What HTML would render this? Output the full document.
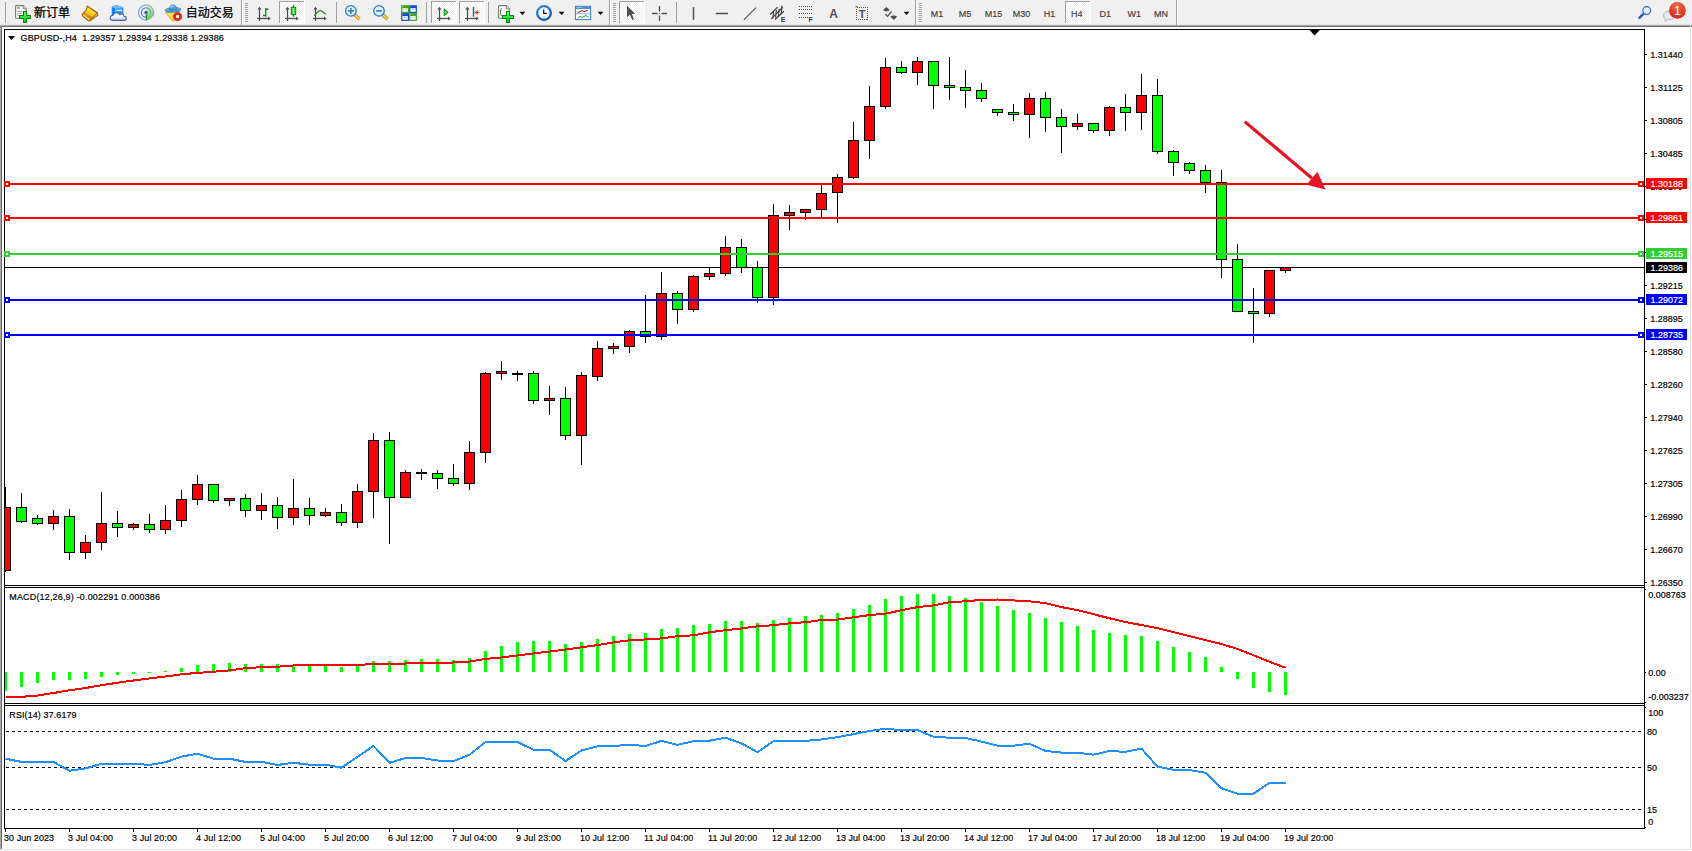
<!DOCTYPE html>
<html><head><meta charset="utf-8"><title>GBPUSD-,H4</title>
<style>
html,body{margin:0;padding:0;background:#fff;}
body{width:1692px;height:851px;overflow:hidden;position:relative;font-family:"Liberation Sans","Noto Sans CJK SC",sans-serif;}
#tb{position:absolute;left:0;top:0;width:1692px;height:25px;background:#f0f0f0;}
.ln{position:absolute;left:0;width:1692px;height:1px;}
svg{position:absolute;left:0;top:0;}
svg text{white-space:pre;}
</style></head><body>
<div id="tb"></div>
<div class="ln" style="top:24px;background:#e6e6e6"></div>
<div class="ln" style="top:25px;background:#a8a8a8"></div>
<div class="ln" style="top:26px;background:#6e6e6e"></div>
<div style="position:absolute;left:0;top:25px;width:1px;height:825px;background:#a8a8a8"></div>
<div style="position:absolute;left:1px;top:27px;width:1px;height:822px;background:#696969"></div>
<div style="position:absolute;left:1690px;top:26px;width:1px;height:824px;background:#e3e3e3"></div>
<div class="ln" style="top:849px;background:#e3e3e3"></div>
<svg width="1692" height="851" viewBox="0 0 1692 851">
<g shape-rendering="crispEdges">
<rect x="4" y="29" width="1641" height="1" fill="#000"/>
<rect x="4" y="29" width="1" height="800" fill="#000"/>
<rect x="1644" y="29" width="1" height="800" fill="#000"/>
<rect x="4" y="585" width="1641" height="1" fill="#000"/>
<rect x="4" y="587" width="1641" height="1" fill="#000"/>
<rect x="4" y="703" width="1641" height="1" fill="#000"/>
<rect x="4" y="705" width="1641" height="1" fill="#000"/>
<rect x="4" y="828" width="1641" height="1" fill="#000"/>
<rect x="5" y="586" width="1639" height="1" fill="#fff"/>
<rect x="5" y="704" width="1639" height="1" fill="#fff"/>
</g>
<polygon points="1309.5,30 1319.8,30 1314.6,35.4" fill="#000"/>
<g shape-rendering="crispEdges">
<rect x="5" y="267" width="1639" height="1" fill="#000"/>
<rect x="5" y="487" width="1" height="85" fill="#000"/>
<rect x="5" y="507" width="6" height="64" fill="#000"/>
<rect x="5" y="508" width="5" height="62" fill="#ff0000"/>
<rect x="21" y="493" width="1" height="30" fill="#000"/>
<rect x="16" y="507" width="11" height="15" fill="#000"/>
<rect x="17" y="508" width="9" height="13" fill="#00ff00"/>
<rect x="37" y="515" width="1" height="10" fill="#000"/>
<rect x="32" y="518" width="11" height="6" fill="#000"/>
<rect x="33" y="519" width="9" height="4" fill="#00ff00"/>
<rect x="53" y="510" width="1" height="20" fill="#000"/>
<rect x="48" y="516" width="11" height="8" fill="#000"/>
<rect x="49" y="517" width="9" height="6" fill="#ff0000"/>
<rect x="69" y="509" width="1" height="51" fill="#000"/>
<rect x="64" y="516" width="11" height="37" fill="#000"/>
<rect x="65" y="517" width="9" height="35" fill="#00ff00"/>
<rect x="85" y="535" width="1" height="24" fill="#000"/>
<rect x="80" y="542" width="11" height="11" fill="#000"/>
<rect x="81" y="543" width="9" height="9" fill="#ff0000"/>
<rect x="101" y="492" width="1" height="58" fill="#000"/>
<rect x="96" y="523" width="11" height="20" fill="#000"/>
<rect x="97" y="524" width="9" height="18" fill="#ff0000"/>
<rect x="117" y="511" width="1" height="26" fill="#000"/>
<rect x="112" y="523" width="11" height="5" fill="#000"/>
<rect x="113" y="524" width="9" height="3" fill="#00ff00"/>
<rect x="133" y="523" width="1" height="7" fill="#000"/>
<rect x="128" y="524" width="11" height="4" fill="#000"/>
<rect x="129" y="525" width="9" height="2" fill="#ff0000"/>
<rect x="149" y="514" width="1" height="19" fill="#000"/>
<rect x="144" y="524" width="11" height="6" fill="#000"/>
<rect x="145" y="525" width="9" height="4" fill="#00ff00"/>
<rect x="165" y="505" width="1" height="29" fill="#000"/>
<rect x="160" y="520" width="11" height="10" fill="#000"/>
<rect x="161" y="521" width="9" height="8" fill="#ff0000"/>
<rect x="181" y="490" width="1" height="37" fill="#000"/>
<rect x="176" y="499" width="11" height="22" fill="#000"/>
<rect x="177" y="500" width="9" height="20" fill="#ff0000"/>
<rect x="197" y="475" width="1" height="30" fill="#000"/>
<rect x="192" y="484" width="11" height="16" fill="#000"/>
<rect x="193" y="485" width="9" height="14" fill="#ff0000"/>
<rect x="213" y="484" width="1" height="19" fill="#000"/>
<rect x="208" y="484" width="11" height="17" fill="#000"/>
<rect x="209" y="485" width="9" height="15" fill="#00ff00"/>
<rect x="229" y="498" width="1" height="8" fill="#000"/>
<rect x="224" y="498" width="11" height="3" fill="#000"/>
<rect x="225" y="499" width="9" height="1" fill="#ff0000"/>
<rect x="245" y="494" width="1" height="23" fill="#000"/>
<rect x="240" y="498" width="11" height="13" fill="#000"/>
<rect x="241" y="499" width="9" height="11" fill="#00ff00"/>
<rect x="261" y="493" width="1" height="27" fill="#000"/>
<rect x="256" y="505" width="11" height="6" fill="#000"/>
<rect x="257" y="506" width="9" height="4" fill="#ff0000"/>
<rect x="277" y="497" width="1" height="32" fill="#000"/>
<rect x="272" y="505" width="11" height="13" fill="#000"/>
<rect x="273" y="506" width="9" height="11" fill="#00ff00"/>
<rect x="293" y="479" width="1" height="46" fill="#000"/>
<rect x="288" y="508" width="11" height="10" fill="#000"/>
<rect x="289" y="509" width="9" height="8" fill="#ff0000"/>
<rect x="309" y="498" width="1" height="27" fill="#000"/>
<rect x="304" y="508" width="11" height="8" fill="#000"/>
<rect x="305" y="509" width="9" height="6" fill="#00ff00"/>
<rect x="325" y="508" width="1" height="9" fill="#000"/>
<rect x="320" y="512" width="11" height="4" fill="#000"/>
<rect x="321" y="513" width="9" height="2" fill="#ff0000"/>
<rect x="341" y="504" width="1" height="22" fill="#000"/>
<rect x="336" y="512" width="11" height="11" fill="#000"/>
<rect x="337" y="513" width="9" height="9" fill="#00ff00"/>
<rect x="357" y="484" width="1" height="44" fill="#000"/>
<rect x="352" y="491" width="11" height="32" fill="#000"/>
<rect x="353" y="492" width="9" height="30" fill="#ff0000"/>
<rect x="373" y="433" width="1" height="85" fill="#000"/>
<rect x="368" y="440" width="11" height="52" fill="#000"/>
<rect x="369" y="441" width="9" height="50" fill="#ff0000"/>
<rect x="389" y="432" width="1" height="112" fill="#000"/>
<rect x="384" y="440" width="11" height="58" fill="#000"/>
<rect x="385" y="441" width="9" height="56" fill="#00ff00"/>
<rect x="405" y="470" width="1" height="28" fill="#000"/>
<rect x="400" y="472" width="11" height="26" fill="#000"/>
<rect x="401" y="473" width="9" height="24" fill="#ff0000"/>
<rect x="421" y="469" width="1" height="11" fill="#000"/>
<rect x="416" y="472" width="11" height="2" fill="#000"/>
<rect x="437" y="470" width="1" height="19" fill="#000"/>
<rect x="432" y="473" width="11" height="6" fill="#000"/>
<rect x="433" y="474" width="9" height="4" fill="#00ff00"/>
<rect x="453" y="464" width="1" height="22" fill="#000"/>
<rect x="448" y="478" width="11" height="6" fill="#000"/>
<rect x="449" y="479" width="9" height="4" fill="#00ff00"/>
<rect x="469" y="441" width="1" height="49" fill="#000"/>
<rect x="464" y="452" width="11" height="32" fill="#000"/>
<rect x="465" y="453" width="9" height="30" fill="#ff0000"/>
<rect x="485" y="372" width="1" height="91" fill="#000"/>
<rect x="480" y="373" width="11" height="80" fill="#000"/>
<rect x="481" y="374" width="9" height="78" fill="#ff0000"/>
<rect x="501" y="361" width="1" height="19" fill="#000"/>
<rect x="496" y="371" width="11" height="3" fill="#000"/>
<rect x="497" y="372" width="9" height="1" fill="#ff0000"/>
<rect x="517" y="371" width="1" height="10" fill="#000"/>
<rect x="512" y="373" width="11" height="2" fill="#000"/>
<rect x="533" y="371" width="1" height="33" fill="#000"/>
<rect x="528" y="373" width="11" height="28" fill="#000"/>
<rect x="529" y="374" width="9" height="26" fill="#00ff00"/>
<rect x="549" y="386" width="1" height="29" fill="#000"/>
<rect x="544" y="398" width="11" height="3" fill="#000"/>
<rect x="545" y="399" width="9" height="1" fill="#ff0000"/>
<rect x="565" y="387" width="1" height="53" fill="#000"/>
<rect x="560" y="398" width="11" height="38" fill="#000"/>
<rect x="561" y="399" width="9" height="36" fill="#00ff00"/>
<rect x="581" y="372" width="1" height="93" fill="#000"/>
<rect x="576" y="375" width="11" height="61" fill="#000"/>
<rect x="577" y="376" width="9" height="59" fill="#ff0000"/>
<rect x="597" y="341" width="1" height="40" fill="#000"/>
<rect x="592" y="348" width="11" height="29" fill="#000"/>
<rect x="593" y="349" width="9" height="27" fill="#ff0000"/>
<rect x="613" y="343" width="1" height="11" fill="#000"/>
<rect x="608" y="346" width="11" height="3" fill="#000"/>
<rect x="609" y="347" width="9" height="1" fill="#ff0000"/>
<rect x="629" y="330" width="1" height="23" fill="#000"/>
<rect x="624" y="331" width="11" height="16" fill="#000"/>
<rect x="625" y="332" width="9" height="14" fill="#ff0000"/>
<rect x="645" y="295" width="1" height="48" fill="#000"/>
<rect x="640" y="331" width="11" height="6" fill="#000"/>
<rect x="641" y="332" width="9" height="4" fill="#00ff00"/>
<rect x="661" y="272" width="1" height="68" fill="#000"/>
<rect x="656" y="293" width="11" height="44" fill="#000"/>
<rect x="657" y="294" width="9" height="42" fill="#ff0000"/>
<rect x="677" y="291" width="1" height="33" fill="#000"/>
<rect x="672" y="293" width="11" height="17" fill="#000"/>
<rect x="673" y="294" width="9" height="15" fill="#00ff00"/>
<rect x="693" y="275" width="1" height="37" fill="#000"/>
<rect x="688" y="276" width="11" height="34" fill="#000"/>
<rect x="689" y="277" width="9" height="32" fill="#ff0000"/>
<rect x="709" y="267" width="1" height="13" fill="#000"/>
<rect x="704" y="273" width="11" height="4" fill="#000"/>
<rect x="705" y="274" width="9" height="2" fill="#ff0000"/>
<rect x="725" y="236" width="1" height="40" fill="#000"/>
<rect x="720" y="247" width="11" height="27" fill="#000"/>
<rect x="721" y="248" width="9" height="25" fill="#ff0000"/>
<rect x="741" y="239" width="1" height="34" fill="#000"/>
<rect x="736" y="247" width="11" height="21" fill="#000"/>
<rect x="737" y="248" width="9" height="19" fill="#00ff00"/>
<rect x="757" y="261" width="1" height="42" fill="#000"/>
<rect x="752" y="267" width="11" height="31" fill="#000"/>
<rect x="753" y="268" width="9" height="29" fill="#00ff00"/>
<rect x="773" y="204" width="1" height="101" fill="#000"/>
<rect x="768" y="215" width="11" height="83" fill="#000"/>
<rect x="769" y="216" width="9" height="81" fill="#ff0000"/>
<rect x="789" y="205" width="1" height="25" fill="#000"/>
<rect x="784" y="212" width="11" height="4" fill="#000"/>
<rect x="785" y="213" width="9" height="2" fill="#ff0000"/>
<rect x="805" y="209" width="1" height="11" fill="#000"/>
<rect x="800" y="209" width="11" height="4" fill="#000"/>
<rect x="801" y="210" width="9" height="2" fill="#ff0000"/>
<rect x="821" y="185" width="1" height="32" fill="#000"/>
<rect x="816" y="193" width="11" height="17" fill="#000"/>
<rect x="817" y="194" width="9" height="15" fill="#ff0000"/>
<rect x="837" y="174" width="1" height="49" fill="#000"/>
<rect x="832" y="177" width="11" height="16" fill="#000"/>
<rect x="833" y="178" width="9" height="14" fill="#ff0000"/>
<rect x="853" y="122" width="1" height="57" fill="#000"/>
<rect x="848" y="140" width="11" height="38" fill="#000"/>
<rect x="849" y="141" width="9" height="36" fill="#ff0000"/>
<rect x="869" y="86" width="1" height="73" fill="#000"/>
<rect x="864" y="106" width="11" height="35" fill="#000"/>
<rect x="865" y="107" width="9" height="33" fill="#ff0000"/>
<rect x="885" y="58" width="1" height="51" fill="#000"/>
<rect x="880" y="67" width="11" height="40" fill="#000"/>
<rect x="881" y="68" width="9" height="38" fill="#ff0000"/>
<rect x="901" y="61" width="1" height="13" fill="#000"/>
<rect x="896" y="67" width="11" height="6" fill="#000"/>
<rect x="897" y="68" width="9" height="4" fill="#00ff00"/>
<rect x="917" y="57" width="1" height="28" fill="#000"/>
<rect x="912" y="61" width="11" height="12" fill="#000"/>
<rect x="913" y="62" width="9" height="10" fill="#ff0000"/>
<rect x="933" y="61" width="1" height="48" fill="#000"/>
<rect x="928" y="61" width="11" height="25" fill="#000"/>
<rect x="929" y="62" width="9" height="23" fill="#00ff00"/>
<rect x="949" y="57" width="1" height="43" fill="#000"/>
<rect x="944" y="85" width="11" height="3" fill="#000"/>
<rect x="945" y="86" width="9" height="1" fill="#00ff00"/>
<rect x="965" y="70" width="1" height="38" fill="#000"/>
<rect x="960" y="87" width="11" height="4" fill="#000"/>
<rect x="961" y="88" width="9" height="2" fill="#00ff00"/>
<rect x="981" y="83" width="1" height="19" fill="#000"/>
<rect x="976" y="90" width="11" height="9" fill="#000"/>
<rect x="977" y="91" width="9" height="7" fill="#00ff00"/>
<rect x="997" y="109" width="1" height="7" fill="#000"/>
<rect x="992" y="109" width="11" height="4" fill="#000"/>
<rect x="993" y="110" width="9" height="2" fill="#00ff00"/>
<rect x="1013" y="104" width="1" height="17" fill="#000"/>
<rect x="1008" y="112" width="11" height="3" fill="#000"/>
<rect x="1009" y="113" width="9" height="1" fill="#00ff00"/>
<rect x="1029" y="93" width="1" height="45" fill="#000"/>
<rect x="1024" y="98" width="11" height="17" fill="#000"/>
<rect x="1025" y="99" width="9" height="15" fill="#ff0000"/>
<rect x="1045" y="92" width="1" height="40" fill="#000"/>
<rect x="1040" y="98" width="11" height="20" fill="#000"/>
<rect x="1041" y="99" width="9" height="18" fill="#00ff00"/>
<rect x="1061" y="109" width="1" height="44" fill="#000"/>
<rect x="1056" y="117" width="11" height="10" fill="#000"/>
<rect x="1057" y="118" width="9" height="8" fill="#00ff00"/>
<rect x="1077" y="114" width="1" height="16" fill="#000"/>
<rect x="1072" y="123" width="11" height="4" fill="#000"/>
<rect x="1073" y="124" width="9" height="2" fill="#ff0000"/>
<rect x="1093" y="123" width="1" height="10" fill="#000"/>
<rect x="1088" y="123" width="11" height="8" fill="#000"/>
<rect x="1089" y="124" width="9" height="6" fill="#00ff00"/>
<rect x="1109" y="106" width="1" height="30" fill="#000"/>
<rect x="1104" y="107" width="11" height="24" fill="#000"/>
<rect x="1105" y="108" width="9" height="22" fill="#ff0000"/>
<rect x="1125" y="94" width="1" height="37" fill="#000"/>
<rect x="1120" y="107" width="11" height="6" fill="#000"/>
<rect x="1121" y="108" width="9" height="4" fill="#00ff00"/>
<rect x="1141" y="74" width="1" height="56" fill="#000"/>
<rect x="1136" y="95" width="11" height="18" fill="#000"/>
<rect x="1137" y="96" width="9" height="16" fill="#ff0000"/>
<rect x="1157" y="79" width="1" height="75" fill="#000"/>
<rect x="1152" y="95" width="11" height="57" fill="#000"/>
<rect x="1153" y="96" width="9" height="55" fill="#00ff00"/>
<rect x="1173" y="150" width="1" height="26" fill="#000"/>
<rect x="1168" y="151" width="11" height="12" fill="#000"/>
<rect x="1169" y="152" width="9" height="10" fill="#00ff00"/>
<rect x="1189" y="162" width="1" height="12" fill="#000"/>
<rect x="1184" y="163" width="11" height="8" fill="#000"/>
<rect x="1185" y="164" width="9" height="6" fill="#00ff00"/>
<rect x="1205" y="165" width="1" height="28" fill="#000"/>
<rect x="1200" y="170" width="11" height="13" fill="#000"/>
<rect x="1201" y="171" width="9" height="11" fill="#00ff00"/>
<rect x="1221" y="170" width="1" height="108" fill="#000"/>
<rect x="1216" y="182" width="11" height="78" fill="#000"/>
<rect x="1217" y="183" width="9" height="76" fill="#00ff00"/>
<rect x="1237" y="244" width="1" height="68" fill="#000"/>
<rect x="1232" y="259" width="11" height="53" fill="#000"/>
<rect x="1233" y="260" width="9" height="51" fill="#00ff00"/>
<rect x="1253" y="288" width="1" height="55" fill="#000"/>
<rect x="1248" y="311" width="11" height="3" fill="#000"/>
<rect x="1249" y="312" width="9" height="1" fill="#00ff00"/>
<rect x="1269" y="270" width="1" height="47" fill="#000"/>
<rect x="1264" y="270" width="11" height="44" fill="#000"/>
<rect x="1265" y="271" width="9" height="42" fill="#ff0000"/>
<rect x="1285" y="267" width="1" height="6" fill="#000"/>
<rect x="1280" y="267" width="11" height="4" fill="#000"/>
<rect x="1281" y="268" width="9" height="2" fill="#ff0000"/>
<rect x="5" y="183" width="1639" height="2" fill="#ff0000"/>
<rect x="4" y="181" width="6" height="6" fill="#ff0000"/><rect x="6" y="183" width="2" height="2" fill="#fff"/>
<rect x="1638" y="181" width="6" height="6" fill="#ff0000"/><rect x="1640" y="183" width="2" height="2" fill="#fff"/>
<rect x="5" y="217" width="1639" height="2" fill="#ff0000"/>
<rect x="4" y="215" width="6" height="6" fill="#ff0000"/><rect x="6" y="217" width="2" height="2" fill="#fff"/>
<rect x="1638" y="215" width="6" height="6" fill="#ff0000"/><rect x="1640" y="217" width="2" height="2" fill="#fff"/>
<rect x="5" y="253" width="1639" height="2" fill="#32cd32"/>
<rect x="4" y="251" width="6" height="6" fill="#32cd32"/><rect x="6" y="253" width="2" height="2" fill="#fff"/>
<rect x="1638" y="251" width="6" height="6" fill="#32cd32"/><rect x="1640" y="253" width="2" height="2" fill="#fff"/>
<rect x="5" y="299" width="1639" height="2" fill="#0000ff"/>
<rect x="4" y="297" width="6" height="6" fill="#0000ff"/><rect x="6" y="299" width="2" height="2" fill="#fff"/>
<rect x="1638" y="297" width="6" height="6" fill="#0000ff"/><rect x="1640" y="299" width="2" height="2" fill="#fff"/>
<rect x="5" y="334" width="1639" height="2" fill="#0000ff"/>
<rect x="4" y="332" width="6" height="6" fill="#0000ff"/><rect x="6" y="334" width="2" height="2" fill="#fff"/>
<rect x="1638" y="332" width="6" height="6" fill="#0000ff"/><rect x="1640" y="334" width="2" height="2" fill="#fff"/>
<rect x="5" y="672" width="2" height="19" fill="#00ff00"/>
<rect x="20" y="672" width="3" height="15" fill="#00ff00"/>
<rect x="36" y="672" width="3" height="11" fill="#00ff00"/>
<rect x="52" y="672" width="3" height="8" fill="#00ff00"/>
<rect x="68" y="672" width="3" height="8" fill="#00ff00"/>
<rect x="84" y="672" width="3" height="7" fill="#00ff00"/>
<rect x="100" y="672" width="3" height="5" fill="#00ff00"/>
<rect x="116" y="672" width="3" height="3" fill="#00ff00"/>
<rect x="132" y="672" width="3" height="2" fill="#00ff00"/>
<rect x="148" y="672" width="3" height="1" fill="#00ff00"/>
<rect x="164" y="671" width="3" height="1" fill="#00ff00"/>
<rect x="180" y="668" width="3" height="4" fill="#00ff00"/>
<rect x="196" y="665" width="3" height="7" fill="#00ff00"/>
<rect x="212" y="664" width="3" height="8" fill="#00ff00"/>
<rect x="228" y="663" width="3" height="9" fill="#00ff00"/>
<rect x="244" y="664" width="3" height="8" fill="#00ff00"/>
<rect x="260" y="664" width="3" height="8" fill="#00ff00"/>
<rect x="276" y="664" width="3" height="8" fill="#00ff00"/>
<rect x="292" y="665" width="3" height="7" fill="#00ff00"/>
<rect x="308" y="665" width="3" height="7" fill="#00ff00"/>
<rect x="324" y="665" width="3" height="7" fill="#00ff00"/>
<rect x="340" y="667" width="3" height="5" fill="#00ff00"/>
<rect x="356" y="665" width="3" height="7" fill="#00ff00"/>
<rect x="372" y="661" width="3" height="11" fill="#00ff00"/>
<rect x="388" y="661" width="3" height="11" fill="#00ff00"/>
<rect x="404" y="660" width="3" height="12" fill="#00ff00"/>
<rect x="420" y="659" width="3" height="13" fill="#00ff00"/>
<rect x="436" y="659" width="3" height="13" fill="#00ff00"/>
<rect x="452" y="660" width="3" height="12" fill="#00ff00"/>
<rect x="468" y="658" width="3" height="14" fill="#00ff00"/>
<rect x="484" y="651" width="3" height="21" fill="#00ff00"/>
<rect x="500" y="646" width="3" height="26" fill="#00ff00"/>
<rect x="516" y="642" width="3" height="30" fill="#00ff00"/>
<rect x="532" y="641" width="3" height="31" fill="#00ff00"/>
<rect x="548" y="641" width="3" height="31" fill="#00ff00"/>
<rect x="564" y="644" width="3" height="28" fill="#00ff00"/>
<rect x="580" y="642" width="3" height="30" fill="#00ff00"/>
<rect x="596" y="639" width="3" height="33" fill="#00ff00"/>
<rect x="612" y="636" width="3" height="36" fill="#00ff00"/>
<rect x="628" y="634" width="3" height="38" fill="#00ff00"/>
<rect x="644" y="633" width="3" height="39" fill="#00ff00"/>
<rect x="660" y="629" width="3" height="43" fill="#00ff00"/>
<rect x="676" y="628" width="3" height="44" fill="#00ff00"/>
<rect x="692" y="625" width="3" height="47" fill="#00ff00"/>
<rect x="708" y="624" width="3" height="48" fill="#00ff00"/>
<rect x="724" y="621" width="3" height="51" fill="#00ff00"/>
<rect x="740" y="621" width="3" height="51" fill="#00ff00"/>
<rect x="756" y="623" width="3" height="49" fill="#00ff00"/>
<rect x="772" y="620" width="3" height="52" fill="#00ff00"/>
<rect x="788" y="618" width="3" height="54" fill="#00ff00"/>
<rect x="804" y="616" width="3" height="56" fill="#00ff00"/>
<rect x="820" y="615" width="3" height="57" fill="#00ff00"/>
<rect x="836" y="613" width="3" height="59" fill="#00ff00"/>
<rect x="852" y="609" width="3" height="63" fill="#00ff00"/>
<rect x="868" y="605" width="3" height="67" fill="#00ff00"/>
<rect x="884" y="599" width="3" height="73" fill="#00ff00"/>
<rect x="900" y="596" width="3" height="76" fill="#00ff00"/>
<rect x="916" y="594" width="3" height="78" fill="#00ff00"/>
<rect x="932" y="594" width="3" height="78" fill="#00ff00"/>
<rect x="948" y="596" width="3" height="76" fill="#00ff00"/>
<rect x="964" y="598" width="3" height="74" fill="#00ff00"/>
<rect x="980" y="602" width="3" height="70" fill="#00ff00"/>
<rect x="996" y="606" width="3" height="66" fill="#00ff00"/>
<rect x="1012" y="610" width="3" height="62" fill="#00ff00"/>
<rect x="1028" y="613" width="3" height="59" fill="#00ff00"/>
<rect x="1044" y="618" width="3" height="54" fill="#00ff00"/>
<rect x="1060" y="622" width="3" height="50" fill="#00ff00"/>
<rect x="1076" y="626" width="3" height="46" fill="#00ff00"/>
<rect x="1092" y="630" width="3" height="42" fill="#00ff00"/>
<rect x="1108" y="633" width="3" height="39" fill="#00ff00"/>
<rect x="1124" y="635" width="3" height="37" fill="#00ff00"/>
<rect x="1140" y="636" width="3" height="36" fill="#00ff00"/>
<rect x="1156" y="641" width="3" height="31" fill="#00ff00"/>
<rect x="1172" y="647" width="3" height="25" fill="#00ff00"/>
<rect x="1188" y="652" width="3" height="20" fill="#00ff00"/>
<rect x="1204" y="657" width="3" height="15" fill="#00ff00"/>
<rect x="1220" y="667" width="3" height="5" fill="#00ff00"/>
<rect x="1236" y="672" width="3" height="7" fill="#00ff00"/>
<rect x="1252" y="672" width="3" height="16" fill="#00ff00"/>
<rect x="1268" y="672" width="3" height="20" fill="#00ff00"/>
<rect x="1284" y="672" width="3" height="23" fill="#00ff00"/>
<line x1="6" y1="731.5" x2="1643" y2="731.5" stroke="#000" stroke-width="1" stroke-dasharray="3 3"/>
<line x1="6" y1="767.5" x2="1643" y2="767.5" stroke="#000" stroke-width="1" stroke-dasharray="3 3"/>
<line x1="6" y1="809.5" x2="1643" y2="809.5" stroke="#000" stroke-width="1" stroke-dasharray="3 3"/>
<rect x="1645" y="54" width="2" height="1" fill="#000"/>
<rect x="1645" y="87" width="2" height="1" fill="#000"/>
<rect x="1645" y="120" width="2" height="1" fill="#000"/>
<rect x="1645" y="153" width="2" height="1" fill="#000"/>
<rect x="1645" y="186" width="2" height="1" fill="#000"/>
<rect x="1645" y="219" width="2" height="1" fill="#000"/>
<rect x="1645" y="252" width="2" height="1" fill="#000"/>
<rect x="1645" y="285" width="2" height="1" fill="#000"/>
<rect x="1645" y="318" width="2" height="1" fill="#000"/>
<rect x="1645" y="351" width="2" height="1" fill="#000"/>
<rect x="1645" y="384" width="2" height="1" fill="#000"/>
<rect x="1645" y="417" width="2" height="1" fill="#000"/>
<rect x="1645" y="450" width="2" height="1" fill="#000"/>
<rect x="1645" y="483" width="2" height="1" fill="#000"/>
<rect x="1645" y="516" width="2" height="1" fill="#000"/>
<rect x="1645" y="549" width="2" height="1" fill="#000"/>
<rect x="1645" y="582" width="2" height="1" fill="#000"/>
<rect x="1645" y="589" width="1" height="1" fill="#000"/>
<rect x="1645" y="672" width="1" height="1" fill="#000"/>
<rect x="1645" y="702" width="1" height="1" fill="#000"/>
<rect x="1645" y="707" width="1" height="1" fill="#000"/>
<rect x="1645" y="827" width="1" height="1" fill="#000"/>
<rect x="5" y="829" width="1" height="3" fill="#000"/>
<rect x="69" y="829" width="1" height="3" fill="#000"/>
<rect x="133" y="829" width="1" height="3" fill="#000"/>
<rect x="197" y="829" width="1" height="3" fill="#000"/>
<rect x="261" y="829" width="1" height="3" fill="#000"/>
<rect x="325" y="829" width="1" height="3" fill="#000"/>
<rect x="389" y="829" width="1" height="3" fill="#000"/>
<rect x="453" y="829" width="1" height="3" fill="#000"/>
<rect x="517" y="829" width="1" height="3" fill="#000"/>
<rect x="581" y="829" width="1" height="3" fill="#000"/>
<rect x="645" y="829" width="1" height="3" fill="#000"/>
<rect x="709" y="829" width="1" height="3" fill="#000"/>
<rect x="773" y="829" width="1" height="3" fill="#000"/>
<rect x="837" y="829" width="1" height="3" fill="#000"/>
<rect x="901" y="829" width="1" height="3" fill="#000"/>
<rect x="965" y="829" width="1" height="3" fill="#000"/>
<rect x="1029" y="829" width="1" height="3" fill="#000"/>
<rect x="1093" y="829" width="1" height="3" fill="#000"/>
<rect x="1157" y="829" width="1" height="3" fill="#000"/>
<rect x="1221" y="829" width="1" height="3" fill="#000"/>
<rect x="1285" y="829" width="1" height="3" fill="#000"/>
</g>
<polyline points="5.5,696.8 21.5,696.8 37.5,695.6 53.5,693.0 69.5,690.3 85.5,688.0 101.5,685.3 117.5,682.7 133.5,680.5 149.5,678.4 165.5,676.5 181.5,674.3 197.5,672.9 213.5,671.7 229.5,670.4 245.5,668.1 261.5,667.2 277.5,666.7 293.5,665.5 309.5,665.0 325.5,665.0 341.5,665.0 357.5,665.0 373.5,664.0 389.5,663.5 405.5,663.5 421.5,663.0 437.5,663.0 453.5,662.5 469.5,661.6 485.5,658.9 501.5,657.5 517.5,655.5 533.5,653.4 549.5,651.6 565.5,649.5 581.5,647.3 597.5,645.1 613.5,642.4 629.5,640.3 645.5,639.4 661.5,638.4 677.5,636.2 693.5,635.3 709.5,632.3 725.5,630.2 741.5,628.4 757.5,626.3 773.5,625.2 789.5,623.3 805.5,622.2 821.5,620.1 837.5,619.6 853.5,617.3 869.5,615.1 885.5,613.7 901.5,610.2 917.5,607.1 933.5,605.4 949.5,602.2 965.5,601.3 981.5,599.9 997.5,599.5 1013.5,600.4 1029.5,601.3 1045.5,603.1 1061.5,607.1 1077.5,610.2 1093.5,614.2 1109.5,618.3 1125.5,622.0 1141.5,625.1 1157.5,628.1 1173.5,632.2 1189.5,636.1 1205.5,640.1 1221.5,644.0 1237.5,649.0 1253.5,655.2 1269.5,661.8 1285.5,667.8" fill="none" stroke="#ff0000" stroke-width="2" stroke-linejoin="round" shape-rendering="crispEdges"/>
<polyline points="5.5,758.7 21.5,761.9 37.5,761.9 53.5,761.9 69.5,770.7 85.5,768.4 101.5,763.7 117.5,763.7 133.5,763.7 149.5,764.9 165.5,762.2 181.5,756.6 197.5,753.7 213.5,758.7 229.5,758.7 245.5,761.9 261.5,761.9 277.5,764.9 293.5,762.8 309.5,764.7 325.5,764.7 341.5,767.7 357.5,756.9 373.5,745.9 389.5,762.8 405.5,758.0 421.5,758.0 437.5,760.5 453.5,761.0 469.5,754.8 485.5,742.0 501.5,742.0 517.5,742.0 533.5,749.8 549.5,749.8 565.5,761.0 581.5,750.5 597.5,746.4 613.5,746.0 629.5,744.8 645.5,746.0 661.5,740.9 677.5,744.8 693.5,741.2 709.5,740.7 725.5,737.7 741.5,743.4 757.5,752.2 773.5,741.2 789.5,740.9 805.5,740.9 821.5,739.5 837.5,737.2 853.5,734.1 869.5,731.0 885.5,728.8 901.5,730.1 917.5,730.1 933.5,736.8 949.5,737.7 965.5,738.0 981.5,741.6 997.5,745.7 1013.5,745.7 1029.5,743.7 1045.5,751.0 1061.5,752.6 1077.5,752.6 1093.5,754.7 1109.5,751.0 1125.5,751.9 1141.5,748.6 1157.5,766.7 1173.5,769.8 1189.5,770.1 1205.5,772.8 1221.5,788.2 1237.5,793.7 1253.5,793.7 1269.5,782.9 1285.5,782.9" fill="none" stroke="#1e90ff" stroke-width="2" stroke-linejoin="round" shape-rendering="crispEdges"/>
<line x1="1244.7" y1="121.6" x2="1312.0" y2="178.3" stroke="#e81224" stroke-width="3.2"/>
<polygon points="1325.5,189.6 1306.6,184.7 1317.4,171.8" fill="#e81224"/>
<g font-family='"Liberation Sans","Noto Sans CJK SC",sans-serif' font-size="9px" fill="#000" stroke="#000" stroke-width="0.18">
<text x="1650.3" y="57.8" textLength="32.4" transform="matrix(1 0 0 1.09 0 -5.202)">1.31440</text>
<text x="1650.3" y="90.8" textLength="32.4" transform="matrix(1 0 0 1.09 0 -8.172)">1.31125</text>
<text x="1650.3" y="123.8" textLength="32.4" transform="matrix(1 0 0 1.09 0 -11.142)">1.30805</text>
<text x="1650.3" y="156.8" textLength="32.4" transform="matrix(1 0 0 1.09 0 -14.112)">1.30485</text>
<text x="1650.3" y="189.8" textLength="32.4" transform="matrix(1 0 0 1.09 0 -17.082)">1.30170</text>
<text x="1650.3" y="222.8" textLength="32.4" transform="matrix(1 0 0 1.09 0 -20.052)">1.29850</text>
<text x="1650.3" y="255.8" textLength="32.4" transform="matrix(1 0 0 1.09 0 -23.022)">1.29530</text>
<text x="1650.3" y="288.8" textLength="32.4" transform="matrix(1 0 0 1.09 0 -25.992)">1.29215</text>
<text x="1650.3" y="321.8" textLength="32.4" transform="matrix(1 0 0 1.09 0 -28.962)">1.28895</text>
<text x="1650.3" y="354.8" textLength="32.4" transform="matrix(1 0 0 1.09 0 -31.932)">1.28580</text>
<text x="1650.3" y="387.8" textLength="32.4" transform="matrix(1 0 0 1.09 0 -34.902)">1.28260</text>
<text x="1650.3" y="420.8" textLength="32.4" transform="matrix(1 0 0 1.09 0 -37.872)">1.27940</text>
<text x="1650.3" y="453.8" textLength="32.4" transform="matrix(1 0 0 1.09 0 -40.842)">1.27625</text>
<text x="1650.3" y="486.8" textLength="32.4" transform="matrix(1 0 0 1.09 0 -43.812)">1.27305</text>
<text x="1650.3" y="519.8" textLength="32.4" transform="matrix(1 0 0 1.09 0 -46.782)">1.26990</text>
<text x="1650.3" y="552.8" textLength="32.4" transform="matrix(1 0 0 1.09 0 -49.752)">1.26670</text>
<text x="1650.3" y="585.8" textLength="32.4" transform="matrix(1 0 0 1.09 0 -52.722)">1.26350</text>
</g>
<g shape-rendering="crispEdges">
<rect x="1646" y="178" width="41" height="11" fill="#ff0000"/>
<rect x="1646" y="212" width="41" height="11" fill="#ff0000"/>
<rect x="1646" y="248" width="41" height="11" fill="#32cd32"/>
<rect x="1646" y="262" width="41" height="11" fill="#000000"/>
<rect x="1646" y="294" width="41" height="11" fill="#0000ff"/>
<rect x="1646" y="329" width="41" height="11" fill="#0000ff"/>
</g>
<g font-family='"Liberation Sans","Noto Sans CJK SC",sans-serif' font-size="9px" fill="#fff" stroke="#fff" stroke-width="0.18">
<text x="1650.5" y="186.9" textLength="32.4" transform="matrix(1 0 0 1.09 0 -16.821)">1.30188</text>
<text x="1650.5" y="220.9" textLength="32.4" transform="matrix(1 0 0 1.09 0 -19.881)">1.29861</text>
<text x="1650.5" y="256.9" textLength="32.4" transform="matrix(1 0 0 1.09 0 -23.121)">1.29515</text>
<text x="1650.5" y="270.9" textLength="32.4" transform="matrix(1 0 0 1.09 0 -24.381)">1.29386</text>
<text x="1650.5" y="302.9" textLength="32.4" transform="matrix(1 0 0 1.09 0 -27.261)">1.29072</text>
<text x="1650.5" y="337.9" textLength="32.4" transform="matrix(1 0 0 1.09 0 -30.411)">1.28735</text>
</g>
<g font-family='"Liberation Sans","Noto Sans CJK SC",sans-serif' font-size="9px" fill="#000" stroke="#000" stroke-width="0.18">
<text x="1648.2" y="598.3" transform="matrix(1 0 0 1.09 0 -53.847)">0.008763</text>
<text x="1648.2" y="675.8" transform="matrix(1 0 0 1.09 0 -60.822)">0.00</text>
<text x="1648.2" y="699.8" transform="matrix(1 0 0 1.09 0 -62.982)">-0.003237</text>
<text x="1648.2" y="715.8" transform="matrix(1 0 0 1.09 0 -64.422)">100</text>
<text x="1647" y="734.8" transform="matrix(1 0 0 1.09 0 -66.132)">80</text>
<text x="1647" y="770.8" transform="matrix(1 0 0 1.09 0 -69.372)">50</text>
<text x="1647" y="812.8" transform="matrix(1 0 0 1.09 0 -73.152)">15</text>
<text x="1648.2" y="825.3" transform="matrix(1 0 0 1.09 0 -74.277)">0</text>
<text x="4" y="841" textLength="50" transform="matrix(1 0 0 1.09 0 -75.690)">30 Jun 2023</text>
<text x="68.0" y="841" textLength="45" transform="matrix(1 0 0 1.09 0 -75.690)">3 Jul 04:00</text>
<text x="132.0" y="841" textLength="45" transform="matrix(1 0 0 1.09 0 -75.690)">3 Jul 20:00</text>
<text x="196.0" y="841" textLength="45" transform="matrix(1 0 0 1.09 0 -75.690)">4 Jul 12:00</text>
<text x="260.0" y="841" textLength="45" transform="matrix(1 0 0 1.09 0 -75.690)">5 Jul 04:00</text>
<text x="324.0" y="841" textLength="45" transform="matrix(1 0 0 1.09 0 -75.690)">5 Jul 20:00</text>
<text x="388.0" y="841" textLength="45" transform="matrix(1 0 0 1.09 0 -75.690)">6 Jul 12:00</text>
<text x="452.0" y="841" textLength="45" transform="matrix(1 0 0 1.09 0 -75.690)">7 Jul 04:00</text>
<text x="516.0" y="841" textLength="45" transform="matrix(1 0 0 1.09 0 -75.690)">9 Jul 23:00</text>
<text x="580.0" y="841" textLength="49.3" transform="matrix(1 0 0 1.09 0 -75.690)">10 Jul 12:00</text>
<text x="644.0" y="841" textLength="49.3" transform="matrix(1 0 0 1.09 0 -75.690)">11 Jul 04:00</text>
<text x="708.0" y="841" textLength="49.3" transform="matrix(1 0 0 1.09 0 -75.690)">11 Jul 20:00</text>
<text x="772.0" y="841" textLength="49.3" transform="matrix(1 0 0 1.09 0 -75.690)">12 Jul 12:00</text>
<text x="836.0" y="841" textLength="49.3" transform="matrix(1 0 0 1.09 0 -75.690)">13 Jul 04:00</text>
<text x="900.0" y="841" textLength="49.3" transform="matrix(1 0 0 1.09 0 -75.690)">13 Jul 20:00</text>
<text x="964.0" y="841" textLength="49.3" transform="matrix(1 0 0 1.09 0 -75.690)">14 Jul 12:00</text>
<text x="1028.0" y="841" textLength="49.3" transform="matrix(1 0 0 1.09 0 -75.690)">17 Jul 04:00</text>
<text x="1092.0" y="841" textLength="49.3" transform="matrix(1 0 0 1.09 0 -75.690)">17 Jul 20:00</text>
<text x="1156.0" y="841" textLength="49.3" transform="matrix(1 0 0 1.09 0 -75.690)">18 Jul 12:00</text>
<text x="1220.0" y="841" textLength="49.3" transform="matrix(1 0 0 1.09 0 -75.690)">19 Jul 04:00</text>
<text x="1284.0" y="841" textLength="49.3" transform="matrix(1 0 0 1.09 0 -75.690)">19 Jul 20:00</text>
<text x="20.6" y="41" id="title" xml:space="preserve" textLength="203.2" lengthAdjust="spacing" transform="matrix(1 0 0 1.09 0 -3.690)">GBPUSD-,H4  1.29357 1.29394 1.29338 1.29386</text>
<text x="9.3" y="599.6" id="macd" textLength="150.7" lengthAdjust="spacing" transform="matrix(1 0 0 1.09 0 -53.964)">MACD(12,26,9) -0.002291 0.000386</text>
<text x="9.3" y="718" id="rsi" textLength="67.3" lengthAdjust="spacing" transform="matrix(1 0 0 1.09 0 -64.620)">RSI(14) 37.6179</text>
</g>
<polygon points="7.9,35.9 15.1,35.9 11.5,40.1" fill="#000"/>
<defs>
<pattern id="chk" width="2" height="2" patternUnits="userSpaceOnUse"><rect width="2" height="2" fill="#f0f0f0"/><rect width="1" height="1" fill="#fff"/><rect x="1" y="1" width="1" height="1" fill="#fff"/></pattern>
<linearGradient id="gplus" x1="0" y1="0" x2="0" y2="1"><stop offset="0" stop-color="#70ff80"/><stop offset="0.5" stop-color="#18f038"/><stop offset="1" stop-color="#10c020"/></linearGradient>
<linearGradient id="gold" x1="0" y1="0" x2="1" y2="1"><stop offset="0" stop-color="#f0c840"/><stop offset="0.5" stop-color="#d8a018"/><stop offset="1" stop-color="#b07008"/></linearGradient>
<linearGradient id="gblue" x1="0" y1="0" x2="1" y2="0"><stop offset="0" stop-color="#1a8cff"/><stop offset="1" stop-color="#5ab4ff"/></linearGradient>
<radialGradient id="gbadge" cx="0.5" cy="0.2" r="0.9"><stop offset="0" stop-color="#ee6a4a"/><stop offset="1" stop-color="#d41c0c"/></radialGradient>
<radialGradient id="glens" cx="0.4" cy="0.35" r="0.8"><stop offset="0" stop-color="#f4fcff"/><stop offset="1" stop-color="#b4e0fa"/></radialGradient>
<linearGradient id="gcandle" x1="0" y1="0" x2="1" y2="0"><stop offset="0" stop-color="#20c020"/><stop offset="0.5" stop-color="#8af08a"/><stop offset="1" stop-color="#20c020"/></linearGradient>
<linearGradient id="ghat" x1="0" y1="0" x2="0" y2="1"><stop offset="0" stop-color="#7cc4ee"/><stop offset="1" stop-color="#3a8cc8"/></linearGradient>
<linearGradient id="gyel" x1="0" y1="0" x2="1" y2="1"><stop offset="0" stop-color="#fff27a"/><stop offset="0.6" stop-color="#fbd83a"/><stop offset="1" stop-color="#eeb818"/></linearGradient>
<radialGradient id="gclock" cx="0.4" cy="0.3" r="0.8"><stop offset="0" stop-color="#3aa0ff"/><stop offset="1" stop-color="#0850b0"/></radialGradient>
<linearGradient id="gcloud" x1="0" y1="0" x2="0" y2="1"><stop offset="0" stop-color="#ffffff"/><stop offset="0.5" stop-color="#f4f6fa"/><stop offset="1" stop-color="#b8c4dc"/></linearGradient>
<linearGradient id="gface" x1="0.7" y1="0" x2="0.2" y2="1"><stop offset="0" stop-color="#fff078"/><stop offset="0.5" stop-color="#f8d024"/><stop offset="1" stop-color="#e0a008"/></linearGradient>
<linearGradient id="gsweep" x1="0" y1="0" x2="0.3" y2="1"><stop offset="0" stop-color="#a8d8a8" stop-opacity="0.15"/><stop offset="1" stop-color="#58b058" stop-opacity="0.85"/></linearGradient>
</defs>
<rect x="5" y="2" width="1" height="21" fill="#a0a0a0" shape-rendering="crispEdges"/>
<path d="M15.6 6.4 q0 -0.8 0.8 -0.8 h7 l2.9 3 v8.8 q0 0.8 -0.8 0.8 h-9.1 q-0.8 0 -0.8 -0.8z" fill="#fefefe" stroke="#787878" stroke-width="1.1"/>
<path d="M23.3 5.8 v2.9 h2.9" fill="#fff" stroke="#787878" stroke-width="0.9"/>
<rect x="17" y="7.2" width="2.8" height="1.5" fill="#8c8c8c"/><g stroke="#9c9c9c" stroke-width="0.9"><path d="M17.2 11.5 h5.2 M17.2 13.5 h4.4 M17.2 15.4 h2"/></g>
<path d="M23 11 h4 v4 h4 v4 h-4 v4 h-4 v-4 h-4 v-4 h4z" fill="#0a8410" shape-rendering="crispEdges"/>
<path d="M24 12 h2 v4 h4 v2 h-4 v4 h-2 v-4 h-4 v-2 h4z" fill="url(#gplus)" shape-rendering="crispEdges"/>
<text x="34" y="16.5" font-family='"Liberation Sans","Noto Sans CJK SC",sans-serif' font-size="12px" fill="#000" stroke="#000" stroke-width="0.25">新订单</text>
<path d="M87.3 6.1 L97.3 12.8 L97.9 15 L89.9 20.8 Q88.9 21.1 87.9 20.4 L82.3 15.5 Q81.9 14.7 82.6 14 L85.8 10.8 Q86.9 8.6 87.3 6.1z" fill="url(#gold)" stroke="#9a5c04" stroke-width="1.1" stroke-linejoin="round"/>
<path d="M87.8 7.4 L96.2 13 L92.2 17.4 L84.4 13 Q86.8 10.6 87.8 7.4z" fill="url(#gface)"/>
<path d="M92.8 18.2 L97.2 13.8 L97.4 14.9 L90.6 20z" fill="#dcc888"/><path d="M83.2 15.1 L89.8 20" stroke="#f4d470" stroke-width="1.2" fill="none"/><path d="M84.2 13.3 L92 17.7 L96.4 13.1" stroke="#b07408" stroke-width="0.7" fill="none"/>
<path d="M112 7 L116 5.3 L123 7.6 V15 H112z" fill="#2a9cff" stroke="#1a84f0" stroke-width="0.6"/>
<path d="M112 7 L115.8 8.6 V15.5 H112z" fill="#0a86f4"/><path d="M112 7 L116 5.3 L123 7.6 L115.8 8.6z" fill="#6cc0ff"/><path d="M115.9 8.7 V15" stroke="#e0f2ff" stroke-width="0.7"/><rect x="117.2" y="9.7" width="4.8" height="1.3" fill="#eaf6ff"/>
<path d="M113.4 20.4 q-3.2 0 -3.1 -2.6 q0.1 -2.3 2.7 -2.5 q0.5 -2.8 3.5 -2.7 q2.3 0.1 3.2 1.9 q1.3 -1.1 2.9 -0.4 q1.4 0.7 1.3 2.2 q2.5 0.2 2.4 2.1 q-0.1 2 -2.4 2z" fill="url(#gcloud)" stroke="#44639f" stroke-width="1.1"/>
<path d="M146.2 5.1 A7.5 7.5 0 0 1 146.2 20.1z" fill="url(#gsweep)"/>
<g fill="none" stroke-width="1.2"><path d="M146 5 A7.5 7.5 0 0 0 146 20" stroke="#7f9ee0"/><path d="M146 7.9 A4.6 4.6 0 0 0 146 17.1" stroke="#5478d4"/>
<path d="M146 5 A7.5 7.5 0 0 1 152.6 16.2" stroke="#86b896"/><path d="M146 7.9 A4.6 4.6 0 0 1 150.2 14.6" stroke="#6aa88a"/></g>
<circle cx="146" cy="12.4" r="1.7" fill="#2858d0"/><path d="M146.5 13 V20.5" stroke="#18a018" stroke-width="1.5"/>
<path d="M165.4 12.2 L180 11.4 L174.2 20.4 Q173.2 21.2 172.2 20.4z" fill="url(#gyel)" stroke="#c8980c" stroke-width="0.8" stroke-linejoin="round"/>
<ellipse cx="173" cy="9.9" rx="8" ry="2.3" transform="rotate(-4 173 9.9)" fill="url(#ghat)" stroke="#2a86b6" stroke-width="0.8"/>
<path d="M169.2 9.6 Q169.3 5 173 5 Q176.5 5 176.8 9.2 Q173 10.6 169.2 9.6z" fill="url(#ghat)" stroke="#2a86b6" stroke-width="0.8"/><path d="M170.6 7.8 Q171.2 6 173 5.9" stroke="#c8e8f8" stroke-width="0.9" fill="none"/>
<circle cx="177.6" cy="16.6" r="4.2" fill="#dc2408" stroke="#b81804" stroke-width="0.5"/><rect x="176.1" y="15.1" width="3" height="3" fill="#fff"/>
<text x="185.8" y="16.5" font-family='"Liberation Sans","Noto Sans CJK SC",sans-serif' font-size="12px" fill="#000" stroke="#000" stroke-width="0.25">自动交易</text>
<g shape-rendering="crispEdges"><rect x="241" y="0" width="1" height="25" fill="#a0a0a0"/><rect x="242" y="0" width="1" height="25" fill="#fbfbfb"/>
<rect x="245" y="3" width="3" height="1" fill="#a6a6a6"/>
<rect x="245" y="5" width="3" height="1" fill="#a6a6a6"/>
<rect x="245" y="7" width="3" height="1" fill="#a6a6a6"/>
<rect x="245" y="9" width="3" height="1" fill="#a6a6a6"/>
<rect x="245" y="11" width="3" height="1" fill="#a6a6a6"/>
<rect x="245" y="13" width="3" height="1" fill="#a6a6a6"/>
<rect x="245" y="15" width="3" height="1" fill="#a6a6a6"/>
<rect x="245" y="17" width="3" height="1" fill="#a6a6a6"/>
<rect x="245" y="19" width="3" height="1" fill="#a6a6a6"/>
<rect x="245" y="21" width="3" height="1" fill="#a6a6a6"/>
</g>
<g stroke="#505050" stroke-width="1.3" fill="none"><path d="M259.5 21 V8"/><path d="M257 18.5 H269"/></g>
<path d="M259.5 6.8 l-2.1 2.8 h4.2z M270.8 18.5 l-2.8 -2.1 v4.2z" fill="#505050"/>
<path d="M265.7 8 V16.8 M263 15.5 h2.7 M265.7 9.3 h2.7" stroke="#109010" stroke-width="1.4" fill="none"/>
<g shape-rendering="crispEdges"><rect x="279" y="1" width="26" height="23" fill="url(#chk)"/><rect x="279" y="1" width="25" height="1" fill="#a0a0a0"/><rect x="279" y="1" width="1" height="22" fill="#a0a0a0"/><rect x="279" y="23" width="26" height="1" fill="#fff"/><rect x="304" y="1" width="1" height="23" fill="#fff"/></g>
<g stroke="#505050" stroke-width="1.3" fill="none"><path d="M287.5 21 V8"/><path d="M285 18.5 H297"/></g>
<path d="M287.5 6.8 l-2.1 2.8 h4.2z M298.8 18.5 l-2.8 -2.1 v4.2z" fill="#505050"/>
<path d="M293.5 5.2 V16.8" stroke="#108810" stroke-width="1.4"/><rect x="291.3" y="7.4" width="4.4" height="7.2" fill="url(#gcandle)" stroke="#108810" stroke-width="1"/>
<g stroke="#505050" stroke-width="1.3" fill="none"><path d="M315.5 21 V8"/><path d="M313 18.5 H325"/></g>
<path d="M315.5 6.8 l-2.1 2.8 h4.2z M326.8 18.5 l-2.8 -2.1 v4.2z" fill="#505050"/>
<path d="M314.2 15.7 C317 13 318.5 10.3 320.2 10.3 C322 10.3 323.5 13.5 325.8 14.2" stroke="#209020" stroke-width="1.3" fill="none"/>
<rect x="336" y="2" width="1" height="21" fill="#a0a0a0" shape-rendering="crispEdges"/>
<path d="M354.5 14.6 L359.5 19.2" stroke="#b08810" stroke-width="3.4"/><path d="M354.79999999999995 14.9 L359.29999999999995 19" stroke="#f0d840" stroke-width="1.8"/>
<circle cx="350.9" cy="10.9" r="5.3" fill="url(#glens)" stroke="#2a7ac8" stroke-width="1.3"/>
<path d="M347.9 10.9 h6 M350.9 7.9 v6" stroke="#3a86b4" stroke-width="1.6"/>
<path d="M382.6 14.6 L387.6 19.2" stroke="#b08810" stroke-width="3.4"/><path d="M382.9 14.9 L387.4 19" stroke="#f0d840" stroke-width="1.8"/>
<circle cx="379" cy="10.9" r="5.3" fill="url(#glens)" stroke="#2a7ac8" stroke-width="1.3"/>
<path d="M376 10.9 h6" stroke="#3a86b4" stroke-width="1.6"/>
<rect x="401.2" y="5.2" width="7.8" height="7.8" fill="#3ca414"/><rect x="402.4" y="8.2" width="5.4" height="3.6" fill="#fff"/><rect x="403.4" y="9.2" width="3.4" height="0.9" fill="#b8e8a0"/><rect x="402.0" y="6.2" width="0.9" height="0.9" fill="#b8e8a0"/>
<rect x="409.1" y="5.2" width="7.8" height="7.8" fill="#1a4cd4"/><rect x="410.3" y="8.2" width="5.4" height="3.6" fill="#fff"/><rect x="411.3" y="9.2" width="3.4" height="0.9" fill="#a8c0ff"/><rect x="409.90000000000003" y="6.2" width="0.9" height="0.9" fill="#a8c0ff"/>
<rect x="401.2" y="13.1" width="7.8" height="7.8" fill="#1a4cd4"/><rect x="402.4" y="16.1" width="5.4" height="3.6" fill="#fff"/><rect x="403.4" y="17.1" width="3.4" height="0.9" fill="#a8c0ff"/><rect x="402.0" y="14.1" width="0.9" height="0.9" fill="#a8c0ff"/>
<rect x="409.1" y="13.1" width="7.8" height="7.8" fill="#3ca414"/><rect x="410.3" y="16.1" width="5.4" height="3.6" fill="#fff"/><rect x="411.3" y="17.1" width="3.4" height="0.9" fill="#b8e8a0"/><rect x="409.90000000000003" y="14.1" width="0.9" height="0.9" fill="#b8e8a0"/>
<rect x="426" y="2" width="1" height="21" fill="#a0a0a0" shape-rendering="crispEdges"/>
<g shape-rendering="crispEdges"><rect x="431" y="1" width="26" height="23" fill="url(#chk)"/><rect x="431" y="1" width="25" height="1" fill="#a0a0a0"/><rect x="431" y="1" width="1" height="22" fill="#a0a0a0"/><rect x="431" y="23" width="26" height="1" fill="#fff"/><rect x="456" y="1" width="1" height="23" fill="#fff"/></g>
<g stroke="#505050" stroke-width="1.3" fill="none"><path d="M439.5 21 V8"/><path d="M437 18.5 H449"/></g>
<path d="M439.5 6.8 l-2.1 2.8 h4.2z M450.8 18.5 l-2.8 -2.1 v4.2z" fill="#505050"/>
<path d="M444.2 9.2 V15.6 L448 12.4z" fill="#70e070" stroke="#12a012" stroke-width="1.1" stroke-linejoin="round"/>
<g shape-rendering="crispEdges"><rect x="459" y="1" width="26" height="23" fill="url(#chk)"/><rect x="459" y="1" width="25" height="1" fill="#a0a0a0"/><rect x="459" y="1" width="1" height="22" fill="#a0a0a0"/><rect x="459" y="23" width="26" height="1" fill="#fff"/><rect x="484" y="1" width="1" height="23" fill="#fff"/></g>
<g stroke="#505050" stroke-width="1.3" fill="none"><path d="M467.5 21 V8"/><path d="M465 18.5 H477"/></g>
<path d="M467.5 6.8 l-2.1 2.8 h4.2z M478.8 18.5 l-2.8 -2.1 v4.2z" fill="#505050"/>
<path d="M473.5 7 V16.9" stroke="#1868a8" stroke-width="1.4"/><path d="M474.6 12.4 l3 -2.2 l-0.7 1.7 h2 v1 h-2 l0.7 1.7z" fill="#d84800" stroke="#c03800" stroke-width="0.4"/>
<rect x="488" y="2" width="1" height="21" fill="#a0a0a0" shape-rendering="crispEdges"/>
<path d="M498.6 6.4 q0 -0.8 0.8 -0.8 h7 l2.9 3 v8.8 q0 0.8 -0.8 0.8 h-9.1 q-0.8 0 -0.8 -0.8z" fill="#fefefe" stroke="#787878" stroke-width="1.1"/>
<path d="M506.3 5.8 v2.9 h2.9" fill="#fff" stroke="#787878" stroke-width="0.9"/>
<path d="M501.7 8.5 q-1 0 -1 1.5 v1 q0 1 -0.8 1 q0.8 0 0.8 1 v1.5 q0 1.2 1 1.2" fill="none" stroke="#5a5038" stroke-width="0.9"/>
<path d="M506 11 h4 v4 h4 v4 h-4 v4 h-4 v-4 h-4 v-4 h4z" fill="#0a8410" shape-rendering="crispEdges"/>
<path d="M507 12 h2 v4 h4 v2 h-4 v4 h-2 v-4 h-4 v-2 h4z" fill="url(#gplus)" shape-rendering="crispEdges"/>
<path d="M519.5 11.8 h5.8 l-2.9 3.3z" fill="#000"/>
<circle cx="544" cy="13" r="6.8" fill="#fff" stroke="url(#gclock)" stroke-width="2.3"/>
<path d="M543.7 9.4 V13.3 H546.9" fill="none" stroke="#111" stroke-width="1.2"/>
<g fill="#9a9a9a"><rect x="543.6" y="8" width="0.8" height="0.9"/><rect x="539" y="12.6" width="0.9" height="0.8"/><rect x="548.2" y="12.6" width="0.9" height="0.8"/><rect x="543.2" y="16.6" width="1.6" height="0.9" fill="#5aa0f0"/></g>
<path d="M558.6 11.8 h5.8 l-2.9 3.3z" fill="#000"/>
<rect x="575.4" y="6.3" width="15.2" height="13.3" fill="#fff" stroke="#3a78c4" stroke-width="1"/><rect x="575.9" y="6.8" width="14.2" height="2.2" fill="#4a8ad8"/><rect x="576.4" y="7.2" width="6" height="0.8" fill="#a8ccf4"/><rect x="575.9" y="13.5" width="14.2" height="0.7" fill="#5a8ad0"/>
<path d="M577.5 12.2 h1.6 l2.8 -1.6 l2.4 1 l3.6 -1.4" fill="none" stroke="#7a1000" stroke-width="1"/><path d="M578.2 17.4 l2.4 -0.8 l2 0.8 l3.2 -2 l2.4 2" fill="none" stroke="#0c8418" stroke-width="1"/>
<path d="M597.6 11.8 h5.8 l-2.9 3.3z" fill="#000"/>
<g shape-rendering="crispEdges"><rect x="609" y="0" width="1" height="25" fill="#a0a0a0"/><rect x="610" y="0" width="1" height="25" fill="#fbfbfb"/>
<rect x="613" y="3" width="3" height="1" fill="#a6a6a6"/>
<rect x="613" y="5" width="3" height="1" fill="#a6a6a6"/>
<rect x="613" y="7" width="3" height="1" fill="#a6a6a6"/>
<rect x="613" y="9" width="3" height="1" fill="#a6a6a6"/>
<rect x="613" y="11" width="3" height="1" fill="#a6a6a6"/>
<rect x="613" y="13" width="3" height="1" fill="#a6a6a6"/>
<rect x="613" y="15" width="3" height="1" fill="#a6a6a6"/>
<rect x="613" y="17" width="3" height="1" fill="#a6a6a6"/>
<rect x="613" y="19" width="3" height="1" fill="#a6a6a6"/>
<rect x="613" y="21" width="3" height="1" fill="#a6a6a6"/>
</g>
<g shape-rendering="crispEdges"><rect x="619" y="1" width="26" height="23" fill="url(#chk)"/><rect x="619" y="1" width="25" height="1" fill="#a0a0a0"/><rect x="619" y="1" width="1" height="22" fill="#a0a0a0"/><rect x="619" y="23" width="26" height="1" fill="#fff"/><rect x="644" y="1" width="1" height="23" fill="#fff"/></g>
<path d="M627 5.8 V17.2 L629.9 14.7 L632.3 20 L634 19.2 L631.7 14 L635.2 13.7z" fill="#505050"/>
<path d="M652 13.5 H657.5 M661.5 13.5 H667 M659.5 6 V11.5 M659.5 15.5 V21" stroke="#505050" stroke-width="1.3" fill="none"/><rect x="659" y="13" width="1" height="1" fill="#505050"/>
<rect x="676" y="2" width="1" height="21" fill="#a0a0a0" shape-rendering="crispEdges"/>
<path d="M693.5 7.1 V19.8" stroke="#505050" stroke-width="1.5"/>
<path d="M715.8 13.5 H728" stroke="#505050" stroke-width="1.5"/>
<path d="M743.9 19.8 L756 7.7" stroke="#505050" stroke-width="1.1"/>
<g stroke="#404040" stroke-width="1.25" fill="none"><path d="M770.2 14.5 L777.6 7.1 M771.1 18.9 L782.9 7.1 M775 19.5 L783.8 11.2"/><path d="M772.8 18.5 L773.6 11.5 M775.6 17.6 L776.4 9.6 M778.4 16 L779.2 8.6 M781.2 13.6 L782 5.6" stroke-width="1.1"/></g>
<text x="780.7" y="21.9" font-family='"Liberation Sans","Noto Sans CJK SC",sans-serif' font-size="7px" font-weight="bold" fill="#333">E</text>
<g stroke="#505050" stroke-width="1" stroke-dasharray="1 1" shape-rendering="crispEdges"><path d="M799 6.5 H812 M799 9.5 H812 M799 13.5 H812 M799 17.5 H808"/></g>
<text x="808.6" y="21.9" font-family='"Liberation Sans","Noto Sans CJK SC",sans-serif' font-size="7px" font-weight="bold" fill="#333">F</text>
<text x="833.7" y="17.8" text-anchor="middle" font-family='"Liberation Sans","Noto Sans CJK SC",sans-serif' font-size="12px" font-weight="bold" fill="#505050">A</text>
<rect x="856.5" y="7.5" width="11" height="12" fill="none" stroke="#505050" stroke-width="1" stroke-dasharray="1 1" shape-rendering="crispEdges"/><rect x="855.5" y="6.2" width="2" height="1" fill="#505050"/>
<text x="862.2" y="17.8" text-anchor="middle" font-family='"Liberation Sans","Noto Sans CJK SC",sans-serif' font-size="11px" font-weight="bold" fill="#505050">T</text>
<path d="M886.4 6.9 L890 10.3 L886.4 11.6 L882.9 10.3z M893.8 20 L897.3 16.6 L893.8 15.3 L890.2 16.6z" fill="#505050"/><path d="M885.4 14.2 L887.6 16.4 L891.6 11.4" fill="none" stroke="#505050" stroke-width="1.3"/>
<path d="M903.6 11.8 h5.8 l-2.9 3.3z" fill="#000"/>
<g shape-rendering="crispEdges"><rect x="915" y="0" width="1" height="25" fill="#a0a0a0"/><rect x="916" y="0" width="1" height="25" fill="#fbfbfb"/>
<rect x="919" y="3" width="3" height="1" fill="#a6a6a6"/>
<rect x="919" y="5" width="3" height="1" fill="#a6a6a6"/>
<rect x="919" y="7" width="3" height="1" fill="#a6a6a6"/>
<rect x="919" y="9" width="3" height="1" fill="#a6a6a6"/>
<rect x="919" y="11" width="3" height="1" fill="#a6a6a6"/>
<rect x="919" y="13" width="3" height="1" fill="#a6a6a6"/>
<rect x="919" y="15" width="3" height="1" fill="#a6a6a6"/>
<rect x="919" y="17" width="3" height="1" fill="#a6a6a6"/>
<rect x="919" y="19" width="3" height="1" fill="#a6a6a6"/>
<rect x="919" y="21" width="3" height="1" fill="#a6a6a6"/>
</g>
<g shape-rendering="crispEdges"><rect x="1065" y="1" width="26" height="23" fill="url(#chk)"/><rect x="1065" y="1" width="25" height="1" fill="#a0a0a0"/><rect x="1065" y="1" width="1" height="22" fill="#a0a0a0"/><rect x="1065" y="23" width="26" height="1" fill="#fff"/><rect x="1090" y="1" width="1" height="23" fill="#fff"/></g>
<g font-family='"Liberation Sans","Noto Sans CJK SC",sans-serif' font-size="9px" fill="#3c3c3c" stroke="#3c3c3c" stroke-width="0.15" text-anchor="middle">
<text x="937" y="17" transform="matrix(1 0 0 1.09 0 -1.530)">M1</text>
<text x="965" y="17" transform="matrix(1 0 0 1.09 0 -1.530)">M5</text>
<text x="993.4" y="17" transform="matrix(1 0 0 1.09 0 -1.530)">M15</text>
<text x="1021.5" y="17" transform="matrix(1 0 0 1.09 0 -1.530)">M30</text>
<text x="1049.4" y="17" transform="matrix(1 0 0 1.09 0 -1.530)">H1</text>
<text x="1076.8" y="17" transform="matrix(1 0 0 1.09 0 -1.530)">H4</text>
<text x="1105.2" y="17" transform="matrix(1 0 0 1.09 0 -1.530)">D1</text>
<text x="1134.3" y="17" transform="matrix(1 0 0 1.09 0 -1.530)">W1</text>
<text x="1160.9" y="17" transform="matrix(1 0 0 1.09 0 -1.530)">MN</text>
</g>
<rect x="1176" y="0" width="1" height="25" fill="#a0a0a0" shape-rendering="crispEdges"/><rect x="1177" y="0" width="1" height="25" fill="#fbfbfb" shape-rendering="crispEdges"/>
<path d="M1643.4 13.8 L1639.4 17.8" stroke="#2858d0" stroke-width="2.4" stroke-linecap="round"/><circle cx="1646.7" cy="10.6" r="3.9" fill="#eef1f8" stroke="#2a62dc" stroke-width="1.2"/>
<path d="M1663.6 15.8 q0 -4.6 5.4 -4.6 q5.4 0 5.4 4.6 q0 3.6 -4.6 3.8 h-2.6 l-2 2 l0.3 -2.3 q-1.9 -1 -1.9 -3.5z" fill="#e4e6ee" stroke="#a8a8b0" stroke-width="0.8"/>
<circle cx="1677.4" cy="10.4" r="8.4" fill="url(#gbadge)"/>
<text x="1677.4" y="14.8" text-anchor="middle" font-family='"Liberation Sans","Noto Sans CJK SC",sans-serif' font-size="12.5px" fill="#fff">1</text>
</svg>
</body></html>
